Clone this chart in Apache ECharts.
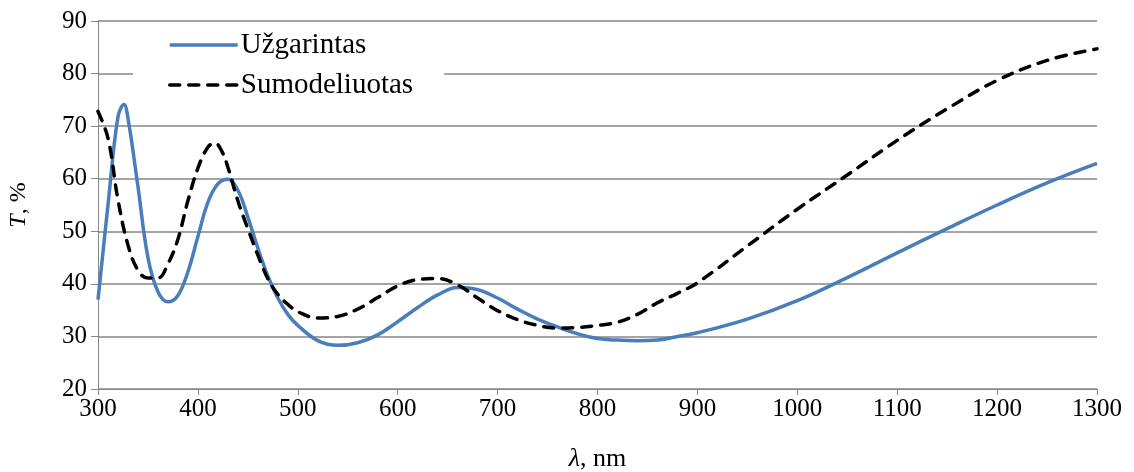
<!DOCTYPE html>
<html>
<head>
<meta charset="utf-8">
<script src="https://cdn.jsdelivr.net/npm/echarts@6/dist/echarts.min.js"></script>
<style>
  html, body { margin: 0; padding: 0; background: #fff; }
  #chart { width: 1134px; height: 472px; }
</style>
</head>
<body>
<div id="chart"></div>
<script>
// Transmittance spectra: evaporated film vs. modelled curve
const seriesNames = ['Užgarintas', 'Sumodeliuotas'];

const evaporatedWavelengths = [300, 310, 320, 326, 330, 340, 350, 360, 370, 380, 390, 400, 410, 420, 430, 440, 450, 460, 470, 480, 490, 500, 520, 540, 560, 580, 600, 620, 640, 660, 680, 700, 720, 740, 760, 780, 800, 820, 840, 860, 880, 900, 950, 1000, 1050, 1100, 1150, 1200, 1250, 1300];
const evaporatedT = [37.0, 55.0, 71.8, 74.1, 71.5, 58.5, 45.0, 38.5, 36.6, 37.8, 42.3, 49.0, 55.5, 59.0, 59.9, 57.8, 52.7, 46.8, 41.5, 37.3, 34.2, 32.1, 29.2, 28.3, 28.8, 30.3, 32.8, 35.5, 37.9, 39.3, 38.9, 37.3, 35.2, 33.3, 31.8, 30.5, 29.6, 29.3, 29.2, 29.3, 30.0, 30.7, 33.3, 36.8, 41.2, 45.9, 50.5, 55.0, 59.2, 62.9];

const modelWavelengths = [300, 310, 320, 330, 340, 350, 360, 370, 380, 390, 400, 410, 417, 424, 430, 440, 450, 460, 470, 480, 490, 500, 520, 540, 560, 580, 600, 620, 640, 660, 680, 700, 720, 740, 760, 780, 800, 820, 840, 860, 880, 900, 950, 1000, 1050, 1100, 1150, 1200, 1250, 1300];
const modelT = [72.8, 67.7, 56.0, 47.4, 42.6, 41.1, 41.1, 43.8, 48.5, 55.8, 62.0, 66.0, 66.8, 65.2, 62.2, 55.8, 50.5, 45.5, 41.0, 38.0, 36.1, 34.7, 33.5, 33.8, 35.2, 37.4, 39.6, 40.8, 41.0, 39.8, 37.3, 34.9, 33.2, 32.1, 31.6, 31.7, 32.1, 32.7, 34.2, 36.4, 38.2, 40.2, 47.2, 54.2, 60.7, 67.3, 73.3, 78.7, 82.5, 84.7];

const xTicks = [300, 400, 500, 600, 700, 800, 900, 1000, 1100, 1200, 1300];
const yTicks = [20, 30, 40, 50, 60, 70, 80, 90];

const pair = (xs, ys) => xs.map((x, i) => [x, ys[i]]);

const font = 'Liberation Serif, Times New Roman, serif';
const gridGrey = '#878787';
const blue = '#4a7ebb';

const chart = echarts.init(document.getElementById('chart'), null, { renderer: 'canvas' });
chart.setOption({
  animation: false,
  backgroundColor: '#fff',
  textStyle: { fontFamily: font, color: '#000' },
  grid: { left: 98, right: 37, top: 21, bottom: 83, containLabel: false, outerBoundsMode: 'none' },
  legend: {
    left: 133,
    top: 25,
    orient: 'vertical',
    backgroundColor: '#fff',
    padding: [5, 31, 5, 35],
    itemWidth: 68,
    itemHeight: 14,
    itemGap: 10,
    itemStyle: { opacity: 0 },
    lineStyle: { width: 3.5 },
    textStyle: { fontFamily: font, fontSize: 29, lineHeight: 30, color: '#000', padding: [0, 0, 0, -2] },
    data: seriesNames
  },
  xAxis: {
    type: 'value',
    min: xTicks[0],
    max: xTicks[xTicks.length - 1],
    interval: 100,
    name: '{i|λ}, nm',
    nameLocation: 'middle',
    nameGap: 57,
    nameTextStyle: {
      fontFamily: font, fontSize: 26, color: '#000',
      rich: { i: { fontFamily: font, fontSize: 26, fontStyle: 'italic', color: '#000' } }
    },
    axisLine: { show: true, lineStyle: { color: gridGrey, width: 1 } },
    axisTick: { show: true, inside: false, length: 6, lineStyle: { color: gridGrey } },
    axisLabel: {
      fontFamily: font, fontSize: 25, color: '#000', margin: 8,
      formatter: v => String(v)
    },
    splitLine: { show: false }
  },
  yAxis: {
    type: 'value',
    min: yTicks[0],
    max: yTicks[yTicks.length - 1],
    interval: 10,
    name: '{i|T}, %',
    nameLocation: 'middle',
    nameRotate: 90,
    nameGap: 67,
    nameTextStyle: {
      fontFamily: font, fontSize: 24, color: '#000',
      rich: { i: { fontFamily: font, fontSize: 24, fontStyle: 'italic', color: '#000' } }
    },
    axisLine: { show: true, lineStyle: { color: gridGrey, width: 1 } },
    axisTick: { show: true, inside: false, length: 7, lineStyle: { color: gridGrey } },
    axisLabel: {
      fontFamily: font, fontSize: 25, color: '#000', margin: 11,
      formatter: v => String(v)
    },
    splitLine: { show: true, lineStyle: { color: gridGrey, width: 1.5 } }
  },
  series: [
    {
      name: seriesNames[0],
      type: 'line',
      data: pair(evaporatedWavelengths, evaporatedT),
      smooth: 0.4,
      symbol: 'none',
      lineStyle: { color: blue, width: 3.5 },
      itemStyle: { color: blue },
      z: 3
    },
    {
      name: seriesNames[1],
      type: 'line',
      data: pair(modelWavelengths, modelT),
      smooth: 0.4,
      symbol: 'none',
      lineStyle: { color: '#000', width: 3.5, type: [10, 9], cap: 'round' },
      itemStyle: { color: '#000' },
      z: 4
    }
  ]
});
</script>
</body>
</html>
